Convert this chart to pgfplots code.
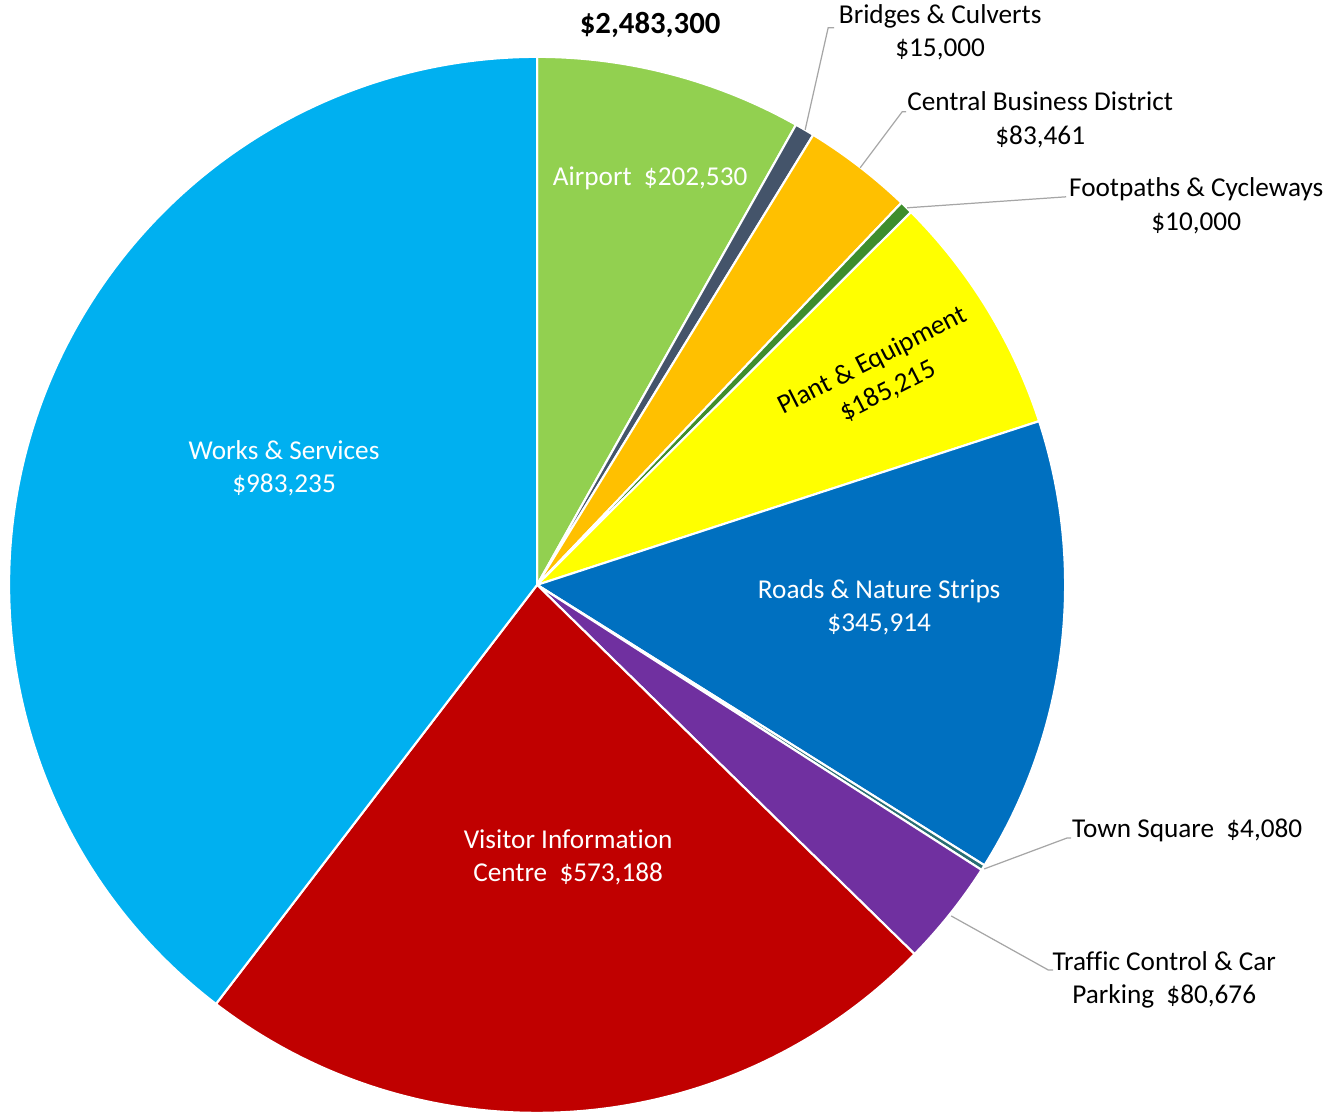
\documentclass[border=0pt]{standalone}
\usepackage{pgfplots}
\pgfplotsset{compat=1.18}
\usepackage{fontspec}
\setmainfont{Carlito}[Ligatures=NoCommon]
\definecolor{cAir}{RGB}{146,208,80}
\definecolor{cBri}{RGB}{68,84,106}
\definecolor{cCBD}{RGB}{255,192,0}
\definecolor{cFoot}{RGB}{62,142,45}
\definecolor{cPlant}{RGB}{255,255,0}
\definecolor{cRoad}{RGB}{0,112,192}
\definecolor{cTown}{RGB}{40,110,115}
\definecolor{cTraf}{RGB}{112,48,160}
\definecolor{cVis}{RGB}{192,0,0}
\definecolor{cWork}{RGB}{0,176,240}
\definecolor{lead}{RGB}{166,166,166}
\begin{document}
\begin{tikzpicture}
\begin{axis}[
  anchor=origin, at={(0,0)},
  x=0.02cm, y=0.02cm,
  xmin=0, xmax=1343, ymin=0, ymax=1116,
  disabledatascaling,
  hide axis, clip=false,
]
\pgfplotsextra{
  \gdef\cum{0}
  \foreach \v/\c in {202530/cAir, 15000/cBri, 83461/cCBD, 10000/cFoot, 185215/cPlant, 345914/cRoad, 4080/cTown, 80676/cTraf, 573188/cVis, 983235/cWork}{
    \edef\a{\fpeval{90-360*\cum/2483299}}
    \edef\b{\fpeval{90-360*(\cum+\v)/2483299}}
    \fill[\c, draw=white, line width=1.2pt, line join=round] (axis cs:537,531) -- ++(\a:10.56cm) arc[start angle=\a, end angle=\b, radius=10.56cm] -- cycle;
    \xdef\cum{\fpeval{\cum+\v}}
  }
}
% title
\node[font=\fontsize{17.5}{21}\selectfont\bfseries] at (axis cs:650,1091) {\$2,483,300};
% inside labels
\node[white, font=\fontsize{15.5}{18.8}\selectfont] at (axis cs:650,937) {Airport\hspace{0.45em}\$202,530};
\node[white, align=center, font=\fontsize{15.5}{18.8}\selectfont] at (axis cs:284,648) {Works \& Services\\\$983,235};
\node[white, align=center, font=\fontsize{15.5}{18.8}\selectfont] at (axis cs:568,259) {Visitor Information\\Centre\hspace{0.45em}\$573,188};
\node[white, align=center, font=\fontsize{15.5}{18.8}\selectfont] at (axis cs:879,509) {Roads \& Nature Strips\\\$345,914};
\node[black, align=center, rotate=27, font=\fontsize{15.5}{19.5}\selectfont] at (axis cs:880,740) {Plant \& Equipment\\\$185,215};
% outside labels
\node[black, align=center, font=\fontsize{15.5}{18.8}\selectfont] at (axis cs:940,1083) {Bridges \& Culverts\\\$15,000};
\node[black, align=center, font=\fontsize{15.5}{18.8}\selectfont] at (axis cs:1040,996) {Central Business District\\\$83,461};
\node[black, align=center, font=\fontsize{15.5}{18.8}\selectfont] at (axis cs:1196,910) {Footpaths \& Cycleways\\\$10,000};
\node[black, font=\fontsize{15.5}{18.8}\selectfont] at (axis cs:1187,286) {Town Square\hspace{0.45em}\$4,080};
\node[black, align=center, font=\fontsize{15.5}{18.8}\selectfont] at (axis cs:1164,136) {Traffic Control \& Car\\Parking\hspace{0.45em}\$80,676};
% leader lines
\draw[lead, line width=0.7pt] (axis cs:805,986) -- (axis cs:828,1088) -- (axis cs:834,1088);
\draw[lead, line width=0.7pt] (axis cs:860,948) -- (axis cs:902,1004) -- (axis cs:906,1004);
\draw[lead, line width=0.7pt] (axis cs:907,908) -- (axis cs:1066,919);
\draw[lead, line width=0.7pt] (axis cs:984,247) -- (axis cs:1067,278) -- (axis cs:1071,278);
\draw[lead, line width=0.7pt] (axis cs:951,200) -- (axis cs:1048,146) -- (axis cs:1053,146);
\end{axis}
\pgfresetboundingbox
\useasboundingbox (0,0) rectangle (26.86,22.32);
\end{tikzpicture}
\end{document}
